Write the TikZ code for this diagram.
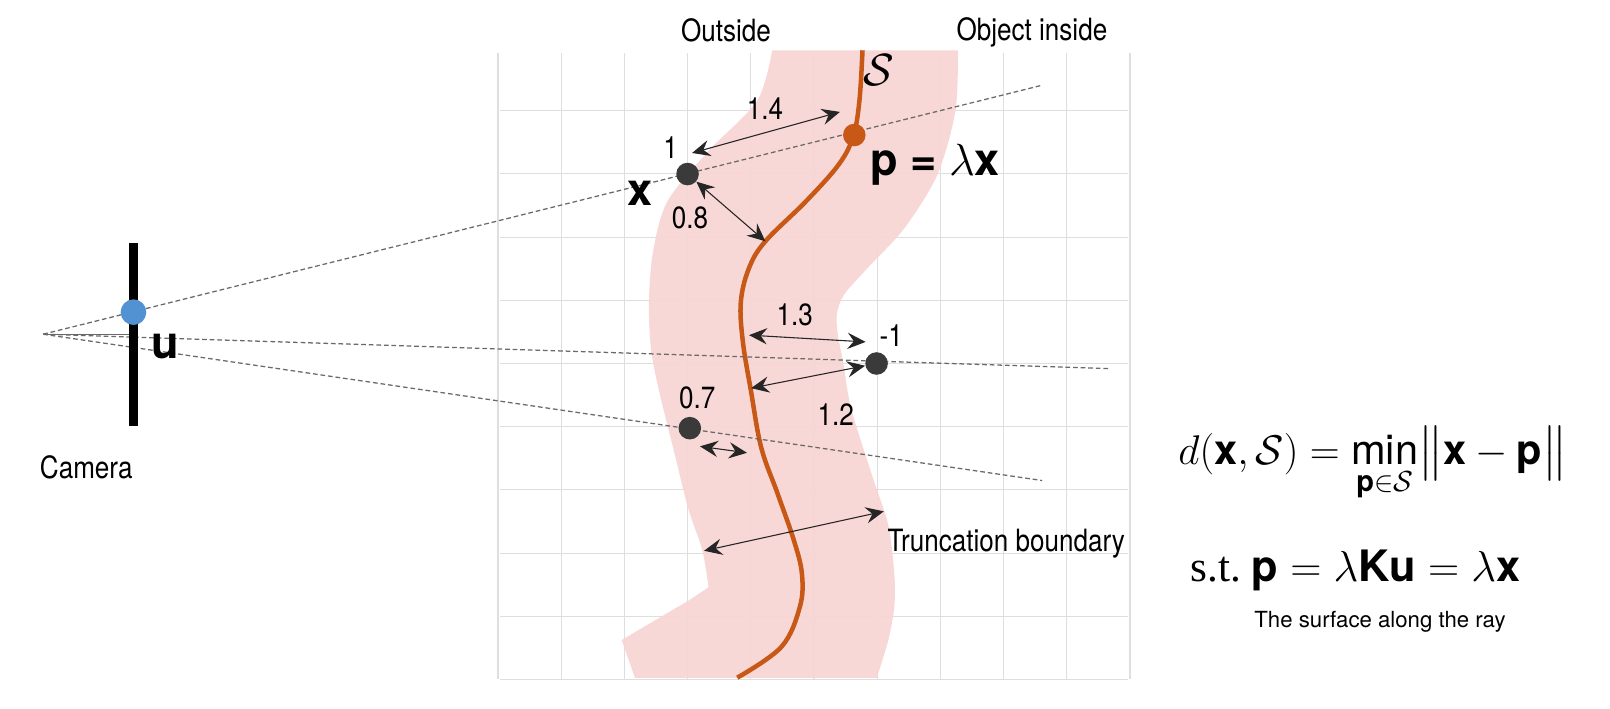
\documentclass[tikz,border=0pt]{standalone}
\usepackage{fix-cm}
\usepackage{amsmath}
\usepackage{fontspec}
\setmainfont{Liberation Serif}
\setsansfont{TeX Gyre Heros}
\newfontfamily\condfont[FakeStretch=0.85]{TeX Gyre Heros}
\definecolor{tsdfpink}{RGB}{247,214,213}
\definecolor{tsdforange}{RGB}{200,88,22}
\definecolor{tsdfdark}{RGB}{58,58,58}
\definecolor{tsdfblue}{RGB}{82,146,210}
\definecolor{tsdfgrid}{RGB}{222,222,222}
\definecolor{tsdfray}{RGB}{105,105,105}
\usetikzlibrary{arrows.meta,positioning}
\newcommand{\bsf}[1]{\text{\sffamily\bfseries #1}}

\begin{document}
\begin{tikzpicture}[x=0.02cm, y=-0.02cm,
  lbl/.style={font=\condfont\fontsize{17}{19}\selectfont, inner sep=0pt},
  bold/.style={font=\sffamily\bfseries\fontsize{25}{28}\selectfont, inner sep=0pt},
  dot/.style={circle, fill=tsdfdark, minimum size=0.44cm, inner sep=0pt},
  gridline/.style={tsdfgrid, line width=0.6pt},
  ray/.style={tsdfray, line width=0.7pt, dash pattern=on 2.6pt off 1.6pt},
  dist/.style={{Stealth[length=10pt,width=9pt,inset=3.5pt]}-{Stealth[length=10pt,width=9pt,inset=3.5pt]}, line width=0.6pt, black!85}]
  \useasboundingbox (0,0) rectangle (1568,690);

  %% Voxel grid
  \foreach \i in {0,...,10}
    \draw[gridline] ({485+61.55*\i},51.9) -- ({485+61.55*\i},661.7);
  \foreach \j in {0,...,9}
    \draw[gridline] (487,{107.8+61.55*\j}) -- (1099,{107.8+61.55*\j});

  %% Truncation band round the surface
  \fill[tsdfpink, opacity=0.95] plot[smooth] coordinates {(752,49) (737.5,98) (690,147) (650,196) (636,245) (632,294) (634,340) (642,381.5) (658,446) (670,494.5) (684,536) (690,572)}
    -- (672,584) -- (605.5,623.3) -- (618.4,660.3) -- (853.8,660.3)
    -- plot[smooth] coordinates {(853.8,660.3) (865,624) (871,591) (871,559) (865,511) (849,462) (829,398) (821,352) (816,326) (815,306) (822,287) (845,261) (881,222) (913,170) (930.5,108) (933,49)}
    -- cycle;

  %% Surface S
  \draw[tsdforange, line width=2.5pt] plot[smooth, tension=0.6] coordinates {(840,49) (837,98) (831,132.5) (817,160) (785,196) (745.4,235) (729.5,261) (721.5,294) (723.5,333) (731.5,381.5) (741.4,436) (757.4,481) (773.3,526.7) (781,559) (779,591) (761,630) (718,660)};

  %% Camera and rays
  \coordinate (cam) at (42,325.5);
  \coordinate (r1) at (1015,83);
  \coordinate (r2) at (1080,359);
  \coordinate (r3) at (1015,468);
  \draw[ray] (cam) -- (r1);
  \draw[ray] (cam) -- (r2);
  \draw[ray] (cam) -- (r3);
  \coordinate (barl) at (126,325.5);
  \draw[tsdfray, line width=0.7pt] (cam) -- (barl);
  \draw[black, line width=4.8pt] (130,237) -- (130,415);
  \node[circle, fill=tsdfblue, minimum size=0.5cm, inner sep=0pt] (udot) at (130,304) {};
  \node[bold] (ulbl) at (161,337) {u};
  \node[lbl] (camera) at (84,455) {Camera};

  %% Samples along the rays
  \node[dot] (xdot) at (669.6,169.5) {};
  \node[dot] (mdot) at (853.7,354) {};
  \node[dot] (sdot) at (671.8,417) {};
  \node[circle, fill=tsdforange, minimum size=0.44cm, inner sep=0pt] (pdot) at (832,131.5) {};

  %% Headings
  \node[lbl] (outside) at (707,30) {Outside};
  \node[lbl] (inside) at (1005,32) {Object inside};

  %% Labels
  \node[font=\fontsize{25}{28}\selectfont, inner sep=0pt] (slbl) at (856,68) {$\mathcal{S}$};
  \node[bold] (xlbl) at (623,188) {x};
  \node[bold, anchor=west] (plbl) at (847,160) {p = $\lambda$x};
  \node[lbl] (v1) at (653,144) {1};
  \node[lbl] (v14) at (745,106) {1.4};
  \node[lbl] (v08) at (672,212) {0.8};
  \node[lbl] (v13) at (774,307) {1.3};
  \node[lbl] (vm1) at (868,327) {-1};
  \node[lbl] (v12) at (814,404) {1.2};
  \node[lbl] (v07) at (679,387) {0.7};
  \node[lbl, anchor=west] (trunc) at (864,529) {Truncation boundary};

  %% Distances to the surface
  \coordinate (a14) at (674,149);
  \coordinate (b14) at (818,109);
  \coordinate (c08) at (745.4,235);
  \coordinate (a13) at (729.5,326.4);
  \coordinate (b13) at (843,333);
  \coordinate (c12) at (731.5,378);
  \coordinate (a07) at (681.7,434.7);
  \coordinate (b07) at (727.5,441);
  \coordinate (at) at (685.7,536.4);
  \coordinate (bt) at (860.8,498);
  \draw[dist] (a14) -- (b14);
  \draw[dist] (xdot) -- (c08);
  \draw[dist] (a13) -- (b13);
  \draw[dist] (mdot) -- (c12);
  \draw[dist] (a07) -- (b07);
  \draw[dist] (at) -- (bt);

  %% Equations
  \node[font=\fontsize{23}{27}\selectfont, anchor=base, inner sep=0pt] (eqdist) at (1337,452)
    {$\displaystyle d(\bsf{x},\mathcal{S}) = \operatorname*{\textsf{min}}_{\bsf{p}\in\mathcal{S}} \bigl\lVert\bsf{x} - \bsf{p}\bigr\rVert$};
  \node[font=\fontsize{24}{28}\selectfont, anchor=base, inner sep=0pt] (eqst) at (1320,566.5)
    {s.t.\ $\bsf{p} = \lambda\bsf{K}\bsf{u} = \lambda\bsf{x}$};
  \node[font=\sffamily\fontsize{12.3}{14}\selectfont, inner sep=0pt] (eqnote) at (1344,605.5) {The surface along the ray};
\end{tikzpicture}
\end{document}
